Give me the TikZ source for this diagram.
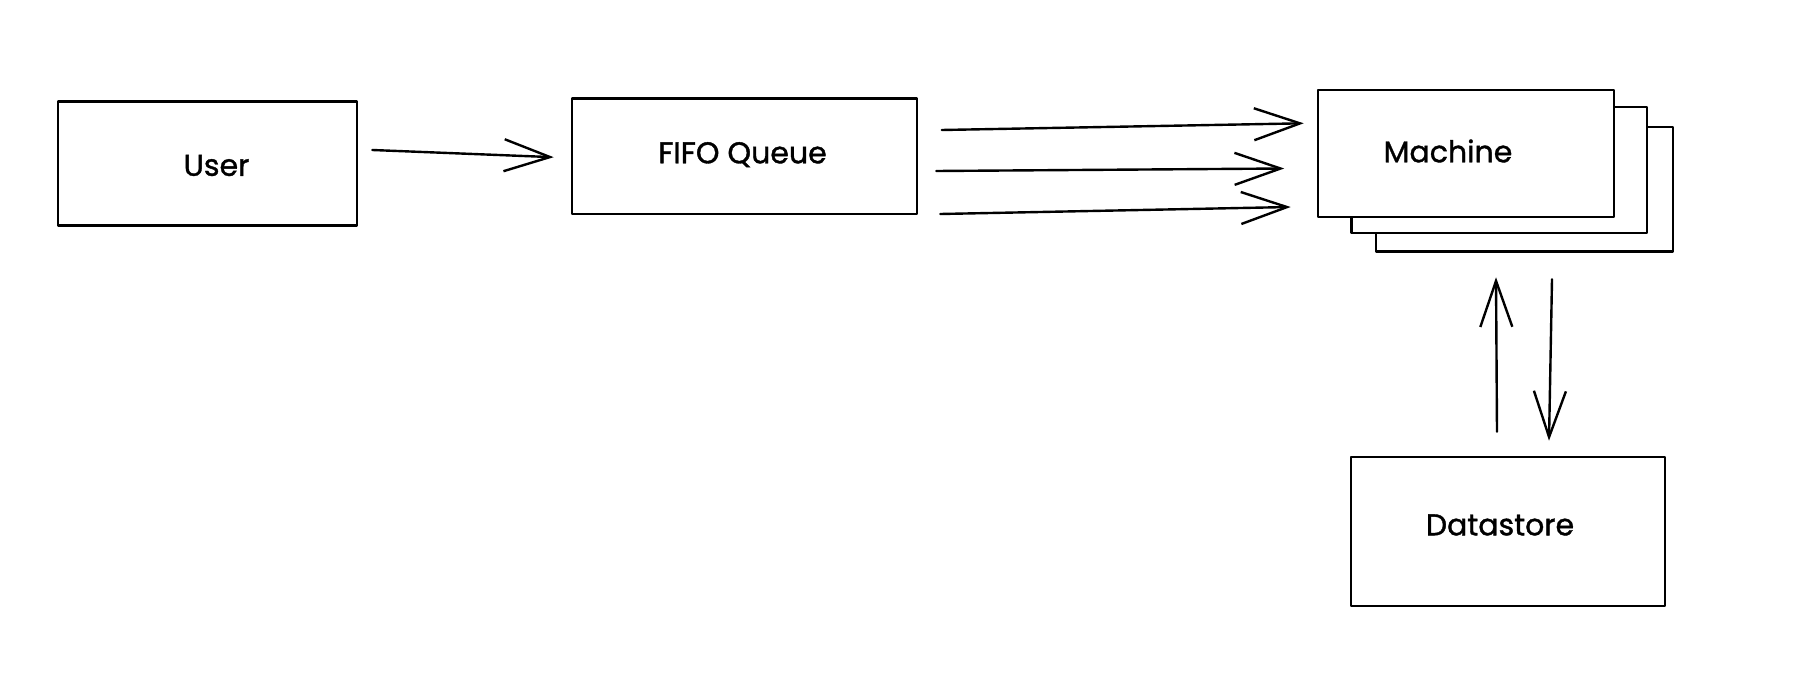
\documentclass[tikz,border=0pt]{standalone}
\usepackage{fontspec}
\setmainfont{Poppins}
\newfontfamily\sketchfont{Poppins}[FakeBold=1.2]
\usetikzlibrary{arrows.meta,calc}
\tikzset{
  box/.style={draw, line width=2.6pt, fill=white, inner sep=0pt, rectangle, line join=round},
  arr/.style={line width=2.4pt, line cap=round, -{Straight Barb[length=46pt,width=32pt,line width=2.4pt]}},
  lbl/.style={font=\sketchfont\fontsize{30}{36}\selectfont, inner sep=0pt}
}
\begin{document}
\begin{tikzpicture}[x=1pt,y=-1pt]
\useasboundingbox[fill=white] (0,0) rectangle (1808,682);
% boxes
\node[box, minimum width=299pt, minimum height=124pt, label={[lbl,xshift=9pt,yshift=-2pt]center:User}] (user) at (207.5,163.5) {};
\node[box, minimum width=345pt, minimum height=115.5pt, label={[lbl,xshift=-2pt,yshift=1.5pt]center:FIFO Queue}] (fifo) at (744.5,156.2) {};
\node[box, minimum width=297pt, minimum height=124.5pt] (machinec) at (1524.5,189.2) {};
\node[box, minimum width=295.5pt, minimum height=126pt] (machineb) at (1499.2,170) {};
\node[box, minimum width=296pt, minimum height=127pt, label={[lbl,xshift=-18pt,yshift=2.5pt]center:Machine}] (machine) at (1466,153.5) {};
\node[box, minimum width=314pt, minimum height=149pt, label={[lbl,xshift=-8pt,yshift=6.5pt]center:Datastore}] (data) at (1508,531.5) {};
% connectors
\draw[arr] ($(user.east)+(14,-13.5)$) -- ($(fifo.west)+(-17,1)$);
\draw[arr] ($(fifo.east)+(23.5,-26.2)$) -- ($(machine.west)+(-13,-30.2)$);
\draw[arr] ($(fifo.east)+(18,14.8)$) -- ($(machine.west)+(-32.5,15)$);
\draw[arr] ($(fifo.east)+(22,57.8)$) -- ($(machine.west)+(-26,53.5)$);
\draw[arr] ($(data.north)+(-11,-24)$) -- ($(machinec.south)+(-28.5,24.5)$);
\draw[arr] ($(machinec.south)+(27.5,26.5)$) -- ($(data.north)+(41,-15)$);
\end{tikzpicture}
\end{document}
